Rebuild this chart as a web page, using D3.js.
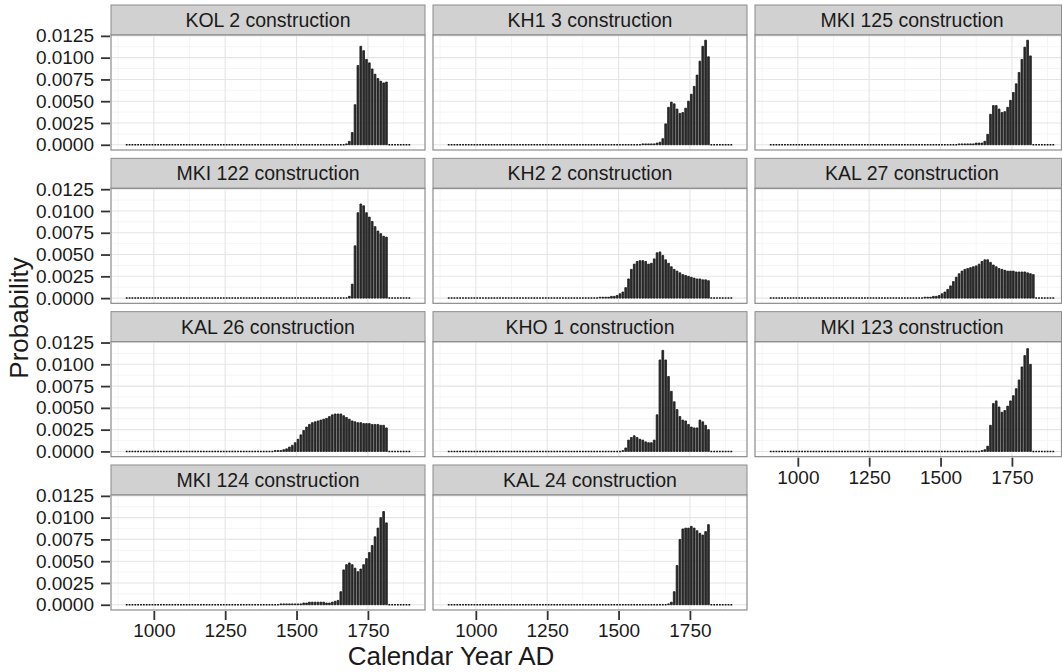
<!DOCTYPE html>
<html>
<head>
<meta charset="utf-8">
<script src="https://cdn.jsdelivr.net/npm/d3@7"></script>
<style>
  html, body { margin: 0; padding: 0; background: #fff; }
  svg { display: block; }
  text { font-family: "Liberation Sans", Arial, sans-serif; }
</style>
</head>
<body>
<svg id="chart" width="1062" height="672"></svg>
<script>
// ---------- DATA ----------
const panelTitles = [
  "KOL 2 construction", "KH1 3 construction", "MKI 125 construction",
  "MKI 122 construction", "KH2 2 construction", "KAL 27 construction",
  "KAL 26 construction", "KHO 1 construction", "MKI 123 construction",
  "MKI 124 construction", "KAL 24 construction"
];
// first bin (left edge, calendar year) of each non-zero run; all other bins are 0
const startYears = [1670, 1580, 1560, 1680, 1430, 1440, 1420, 1510, 1640, 1440, 1670];

const kol2 = [0.0001, 0.0004, 0.0014, 0.0046, 0.0091, 0.0113, 0.0108, 0.0098, 0.0094, 0.0087, 0.0081, 0.0076, 0.0073, 0.0071, 0.0072];
const kh13 = [0.0001, 0.0001, 0.0001, 0.0001, 0.0001, 0.0002, 0.0003,
  0.0007, 0.0024, 0.0043, 0.0049, 0.0047, 0.0041, 0.0036, 0.0037, 0.0042, 0.0050, 0.0058, 0.0067, 0.0080, 0.0096, 0.0113, 0.0120, 0.0101];
const mki125 = [0.0001, 0.0001, 0.0001, 0.0001, 0.0001, 0.0001, 0.0002, 0.0002, 0.0002, 0.0004,
  0.0012, 0.0035, 0.0045, 0.0045, 0.0041, 0.0037, 0.0038, 0.0043, 0.0051, 0.0060, 0.0070, 0.0083, 0.0098, 0.0112, 0.0120, 0.0102];
const mki122 = [0.0002, 0.0016, 0.0060, 0.0098, 0.0108, 0.0106, 0.0098, 0.0093, 0.0088, 0.0082, 0.0077, 0.0074, 0.0071, 0.0070];
const kh22 = [0.0001, 0.0001, 0.0001, 0.0001, 0.0002,
  0.0002, 0.0003, 0.0005, 0.0007, 0.0012, 0.0022, 0.0033, 0.0039, 0.0042, 0.0043, 0.0043, 0.0042, 0.0039, 0.0040, 0.0045, 0.0052, 0.0053, 0.0049, 0.0044, 0.0040, 0.0036, 0.0033, 0.0031, 0.0029, 0.0027, 0.0026, 0.0025, 0.0024, 0.0023, 0.0022, 0.0022, 0.0021, 0.0021, 0.0020];
const kal27 = [0.0001, 0.0001, 0.0001, 0.0002, 0.0002, 0.0003, 0.0005, 0.0007, 0.0010, 0.0014, 0.0019, 0.0024, 0.0028, 0.0031, 0.0033, 0.0034, 0.0035, 0.0036, 0.0037, 0.0039, 0.0042, 0.0044, 0.0044, 0.0041, 0.0038, 0.0036, 0.0034, 0.0033, 0.0032, 0.0031, 0.0031, 0.0031, 0.0030, 0.0030, 0.0030, 0.0030, 0.0029, 0.0028, 0.0027];
const kal26 = [0.0001, 0.0001, 0.0001, 0.0002, 0.0003, 0.0005, 0.0007, 0.0010, 0.0014, 0.0019, 0.0024, 0.0028, 0.0031, 0.0033, 0.0034, 0.0035, 0.0036, 0.0037, 0.0038, 0.0040, 0.0042, 0.0043, 0.0043, 0.0043, 0.0041, 0.0039, 0.0037, 0.0035, 0.0034, 0.0033, 0.0033, 0.0032, 0.0032, 0.0032, 0.0031, 0.0031, 0.0031, 0.0030, 0.0030, 0.0027];
const kho1 = [0.0001, 0.0004, 0.0013, 0.0016, 0.0018, 0.0016, 0.0014, 0.0013, 0.0011, 0.0010, 0.0010, 0.0013, 0.0042, 0.0105, 0.0116, 0.0105, 0.0086, 0.0069, 0.0057, 0.0048, 0.0040, 0.0036, 0.0035, 0.0031, 0.0028, 0.0027, 0.0027, 0.0036, 0.0034, 0.0030, 0.0025];
const mki123 = [0.0001, 0.0002, 0.0006, 0.0030, 0.0055, 0.0058, 0.0051, 0.0045, 0.0047, 0.0052, 0.0058, 0.0064, 0.0072, 0.0082, 0.0097, 0.0110, 0.0118, 0.0100];
const mki124 = [0.0001, 0.0001, 0.0001, 0.0001, 0.0001, 0.0001, 0.0001, 0.0001, 0.0002, 0.0002, 0.0003, 0.0003, 0.0003, 0.0003, 0.0003, 0.0003, 0.0002, 0.0002, 0.0003, 0.0004,
  0.0005, 0.0015, 0.0040, 0.0046, 0.0048, 0.0046, 0.0042, 0.0038, 0.0041, 0.0046, 0.0053, 0.0060, 0.0068, 0.0078, 0.0088, 0.0100, 0.0107, 0.0094];
const kal24 = [0.0001, 0.0003, 0.0015, 0.0045, 0.0075, 0.0087, 0.0088, 0.0088, 0.0090, 0.0088, 0.0085, 0.0082, 0.0080, 0.0084, 0.0092];

const panelValues = [kol2, kh13, mki125, mki122, kh22, kal27, kal26, kho1, mki123, mki124, kal24];

const binStart = 900, binEnd = 1900, binWidth = 10;   // histogram bins over 900–1900 AD
const xTicks = [1000, 1250, 1500, 1750];
const xMinor = [875, 1125, 1375, 1625, 1875];
const yTicks = [0, 0.0025, 0.005, 0.0075, 0.01, 0.0125];
const yMinor = [0.00125, 0.00375, 0.00625, 0.00875, 0.01125];

// ---------- LAYOUT ----------
const svg = d3.select("#chart");
const W = 1062, H = 672;
const ncol = 3;
const panelW = 314, colPitch = 322, left0 = 111;
const stripH = 30, panelH = 115, rowPitch = 153.33, top0 = 5;

const x = d3.scaleLinear().domain([850, 1950]).range([0, panelW]);
const y = d3.scaleLinear().domain([-0.0006, 0.0126]).range([panelH, 0]);

const fmtY = d3.format(".4f");
const textCol = "#1a1a1a";
const borderCol = "#8c8c8c";

function fullSeries(i) {
  const arr = [];
  for (let yr = binStart; yr < binEnd; yr += binWidth) {
    const k = (yr - startYears[i]) / binWidth;
    const v = (k >= 0 && k < panelValues[i].length) ? panelValues[i][k] : 0;
    arr.push({ year: yr, value: v });
  }
  return arr;
}

panelTitles.forEach((title, i) => {
  const col = i % ncol, row = Math.floor(i / ncol);
  const px = left0 + col * colPitch;
  const sy = top0 + row * rowPitch;
  const py = sy + stripH;
  const visW = Math.min(panelW, W - 0.5 - px);   // picture is cut at its right edge

  // strip
  svg.append("rect")
    .attr("x", px).attr("y", sy).attr("width", visW).attr("height", stripH)
    .attr("fill", "#d1d1d1").attr("stroke", borderCol).attr("stroke-width", 1);
  svg.append("text")
    .attr("x", px + panelW / 2).attr("y", sy + stripH / 2 + 7)
    .attr("text-anchor", "middle").attr("font-size", 19.5).attr("fill", textCol)
    .text(title);

  const g = svg.append("g").attr("transform", `translate(${px},${py})`);
  g.append("rect").attr("width", panelW).attr("height", panelH).attr("fill", "#fff");

  // grid
  g.selectAll(".xmin").data(xMinor).enter().append("line")
    .attr("x1", d => x(d)).attr("x2", d => x(d)).attr("y1", 0).attr("y2", panelH)
    .attr("stroke", "#f5f5f5").attr("stroke-width", 1);
  g.selectAll(".ymin").data(yMinor).enter().append("line")
    .attr("x1", 0).attr("x2", panelW).attr("y1", d => y(d)).attr("y2", d => y(d))
    .attr("stroke", "#f5f5f5").attr("stroke-width", 1);
  g.selectAll(".xmaj").data(xTicks).enter().append("line")
    .attr("x1", d => x(d)).attr("x2", d => x(d)).attr("y1", 0).attr("y2", panelH)
    .attr("stroke", "#e5e5e5").attr("stroke-width", 1.1);
  g.selectAll(".ymaj").data(yTicks).enter().append("line")
    .attr("x1", 0).attr("x2", panelW).attr("y1", d => y(d)).attr("y2", d => y(d))
    .attr("stroke", "#e5e5e5").attr("stroke-width", 1.1);

  // bars
  const data = fullSeries(i);
  const bw = x(binStart + binWidth) - x(binStart);
  g.selectAll(".bar").data(data).enter().append("path")
    .attr("d", d => {
      const x0 = x(d.year) + 0.55, x1 = x(d.year) + bw - 0.55;
      const y0 = y(0), y1 = y(d.value);
      return `M${x0},${y0}V${y1}H${x1}V${y0}Z`;
    })
    .attr("fill", "#2f2f2f")
    .attr("stroke", "#111")
    .attr("stroke-width", d => d.value === 0 ? 1.5 : 0.75);

  // border
  g.append("rect").attr("width", visW).attr("height", panelH)
    .attr("fill", "none").attr("stroke", borderCol).attr("stroke-width", 1.2);

  // y axis (every row, first column)
  if (col === 0) {
    const ya = d3.axisLeft(y).tickValues(yTicks).tickFormat(fmtY).tickSize(9).tickPadding(7);
    const ag = svg.append("g").attr("transform", `translate(${px - 1},${py})`).call(ya);
    ag.select(".domain").remove();
    ag.selectAll("line").attr("stroke", "#333").attr("stroke-width", 1.8);
    ag.selectAll("text").attr("font-size", 19).attr("fill", textCol)
      .attr("font-family", "Liberation Sans, Arial, sans-serif");
  }
  // x axis: bottom-most panel of each column
  const below = i + ncol;
  if (below >= panelTitles.length) {
    const xa = d3.axisBottom(x).tickValues(xTicks).tickFormat(d3.format("d")).tickSize(9).tickPadding(4);
    const ag = svg.append("g").attr("transform", `translate(${px},${py + panelH + 1})`).call(xa);
    ag.select(".domain").remove();
    ag.selectAll("line").attr("stroke", "#333").attr("stroke-width", 1.8);
    ag.selectAll("text").attr("font-size", 19).attr("fill", textCol)
      .attr("font-family", "Liberation Sans, Arial, sans-serif");
  }
});

// axis titles
svg.append("text")
  .attr("x", 451).attr("y", 665)
  .attr("text-anchor", "middle").attr("font-size", 26).attr("fill", textCol)
  .text("Calendar Year AD");
svg.append("text")
  .attr("transform", "translate(28,318) rotate(-90)")
  .attr("text-anchor", "middle").attr("font-size", 26).attr("fill", textCol)
  .text("Probability");
</script>
</body>
</html>
